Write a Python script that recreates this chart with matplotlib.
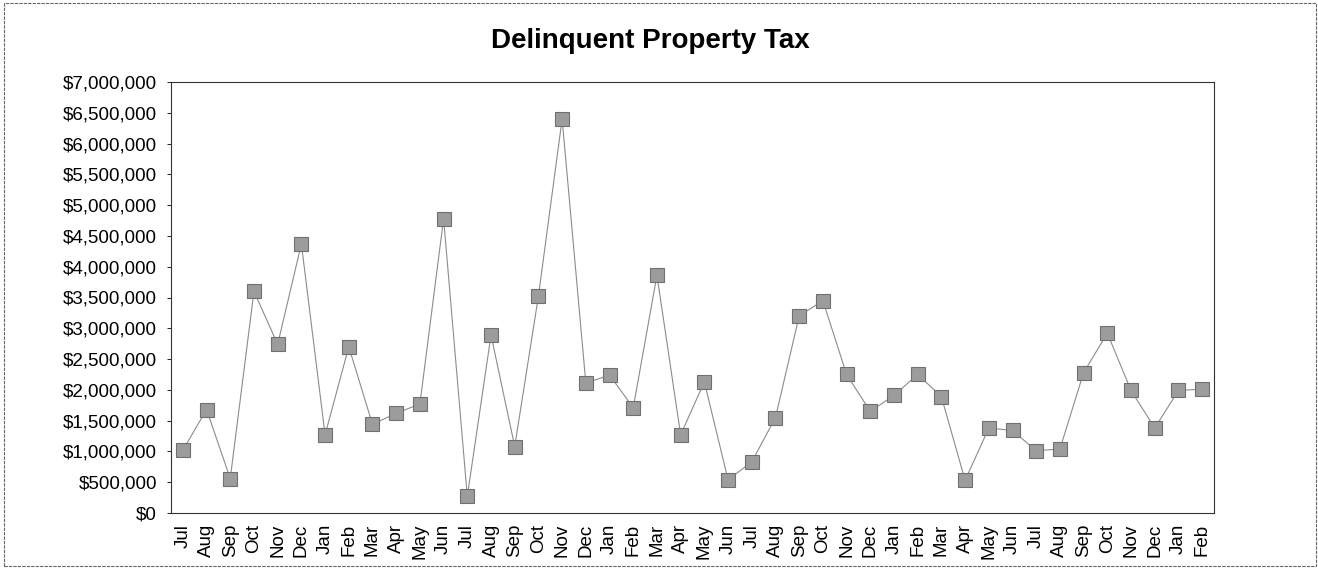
import matplotlib
matplotlib.use("Agg")
import matplotlib.pyplot as plt
from matplotlib.ticker import FuncFormatter
from matplotlib.patches import Rectangle

plt.rcParams['font.family'] = ['Liberation Sans', 'DejaVu Sans']

months = ["Jul", "Aug", "Sep", "Oct", "Nov", "Dec", "Jan", "Feb", "Mar", "Apr", "May", "Jun",
          "Jul", "Aug", "Sep", "Oct", "Nov", "Dec", "Jan", "Feb", "Mar", "Apr", "May", "Jun",
          "Jul", "Aug", "Sep", "Oct", "Nov", "Dec", "Jan", "Feb", "Mar", "Apr", "May", "Jun",
          "Jul", "Aug", "Sep", "Oct", "Nov", "Dec", "Jan", "Feb"]
values = [1020000, 1680000, 560000, 3600000, 2740000, 4370000, 1270000, 2700000, 1440000, 1620000, 1770000, 4780000,
          270000, 2890000, 1080000, 3520000, 6400000, 2110000, 2240000, 1710000, 3860000, 1270000, 2130000, 540000,
          830000, 1550000, 3200000, 3450000, 2250000, 1650000, 1910000, 2250000, 1890000, 530000, 1380000, 1340000,
          1010000, 1040000, 2280000, 2920000, 1990000, 1380000, 1990000, 2010000]
title = "Delinquent Property Tax"

W, H = 1318, 569
fig = plt.figure(figsize=(W / 100, H / 100), dpi=100)
fig.patches.append(Rectangle((4 / W, 3 / H), 1312 / W, 563 / H, transform=fig.transFigure,
                             fill=False, edgecolor='#666666', linewidth=0.8, linestyle=(0, (3, 1))))
left, right, top, bottom = 171, 1214, 82, 513
ax = fig.add_axes([left / W, 1 - bottom / H, (right - left) / W, (bottom - top) / H])

x = list(range(len(values)))
ax.plot(x, values, color='#8c8c8c', linewidth=0.8, linestyle='-', zorder=2)
ax.plot(x, values, linestyle='none', marker='s', markersize=9.5,
        markerfacecolor='#9c9c9c', markeredgecolor='#707070', markeredgewidth=0.8, zorder=3)

ax.set_ylim(0, 7000000)
ax.set_xlim(-0.5, len(values) - 0.5)
ax.set_yticks(range(0, 7000001, 500000))
ax.yaxis.set_major_formatter(FuncFormatter(lambda v, p: "${:,.0f}".format(v)))
ax.set_xticks(x)
ax.set_xticklabels(months, rotation=90, fontsize=13.5)
ax.tick_params(axis='y', labelsize=13.5, length=3, width=0.6, direction='out', pad=7)
ax.tick_params(axis='x', length=0, pad=8)
for s in ax.spines.values():
    s.set_linewidth(0.8)
    s.set_color('#333333')

fig.text(650 / W, 1 - 48 / H, title, ha='center', va='baseline', fontsize=20, fontweight='bold')

fig.savefig("out.png", dpi=100)
